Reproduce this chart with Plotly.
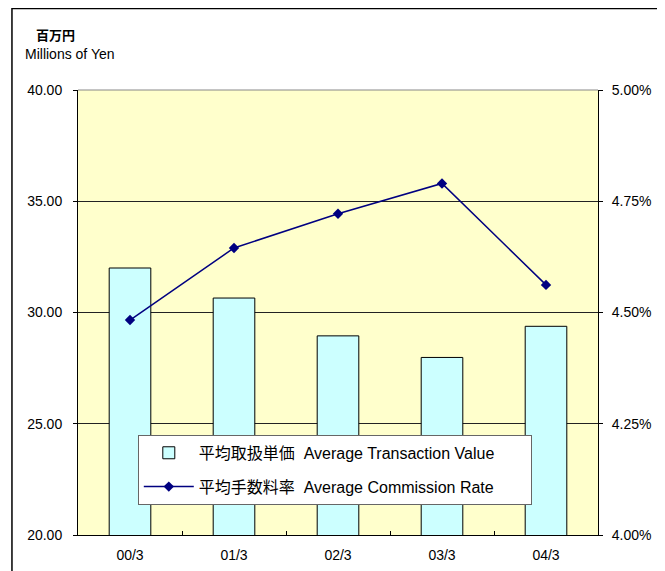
import plotly.graph_objects as go

# values
periods = ["00/3", "01/3", "02/3", "03/3", "04/3"]
avg_transaction_value = [32.0, 30.65, 28.95, 27.98, 29.38]   # millions of yen
avg_commission_rate = [0.04483, 0.04645, 0.04722, 0.04790, 0.04562]

FONT = "Liberation Sans, Arial, Noto Sans CJK JP, sans-serif"
PAD = "\u00a0" * 7  # right padding inside the legend box

fig = go.Figure()

fig.add_trace(go.Bar(
    x=periods, y=avg_transaction_value,
    name="平均取扱単価  Average Transaction Value" + PAD,
    legendgroup="value",
    marker=dict(color="#CCFFFF", line=dict(color="#000000", width=1)),
    yaxis="y",
))

fig.add_trace(go.Scatter(
    x=periods, y=avg_commission_rate,
    name="平均手数料率  Average Commission Rate",
    legendgroup="rate",
    mode="lines+markers",
    line=dict(color="#000080", width=1.5),
    marker=dict(symbol="diamond", size=8, color="#000080"),
    yaxis="y2",
))

# page body adds 8px, so the figure is sized 8px smaller and shifted
fig.update_layout(
    width=657, height=563,
    margin=dict(l=70, r=67, t=82, b=36),
    paper_bgcolor="white",
    plot_bgcolor="#FFFFCC",
    font=dict(family=FONT, size=14, color="#000000"),
    bargap=0.6,
    showlegend=True,
    legend=dict(
        x=0.115, y=0.225, xanchor="left", yanchor="top",
        bgcolor="white", bordercolor="#666666", borderwidth=1,
        font=dict(size=16, family=FONT),
        traceorder="grouped", tracegroupgap=10,
        itemwidth=50,
    ),
    xaxis=dict(
        type="category",
        showline=True, linecolor="#000000", linewidth=1,
        ticks="inside", ticklen=4, tickcolor="#000000",
        tickson="boundaries",
        showgrid=False,
        tickfont=dict(size=14),
        ticklabelstandoff=7,
        automargin=False,
    ),
    yaxis=dict(
        range=[20, 40], dtick=5, tickformat=".2f",
        showline=True, linecolor="#000000", linewidth=1,
        ticks="outside", ticklen=4, tickcolor="#000000",
        showgrid=True, gridcolor="#222222", gridwidth=1,
        zeroline=False,
        tickfont=dict(size=14),
        ticklabelstandoff=8,
        automargin=False,
    ),
    yaxis2=dict(
        range=[0.04, 0.05], dtick=0.0025, tickformat=".2%",
        overlaying="y", side="right",
        showline=True, linecolor="#000000", linewidth=1,
        ticks="outside", ticklen=4, tickcolor="#000000",
        showgrid=False, zeroline=False,
        tickfont=dict(size=14),
        ticklabelstandoff=6,
        automargin=False,
    ),
)

# top border of the plot area
fig.add_shape(type="line", xref="paper", yref="paper", x0=0, x1=1, y0=1, y1=1,
              line=dict(color="#888888", width=1))

# outer frame of the chart
fig.add_shape(type="rect", xref="paper", yref="paper",
              x0=-0.127, x1=1.121, y0=-0.1, y1=1.183,
              line=dict(color="#000000", width=1.5), fillcolor="rgba(0,0,0,0)")

fig.add_annotation(text="<b>百万円</b>", xref="paper", yref="paper",
                   x=-0.044, y=1.124, xanchor="center", yanchor="middle",
                   showarrow=False,
                   font=dict(size=13, family="Noto Sans CJK JP"))
fig.add_annotation(text="Millions of Yen", xref="paper", yref="paper",
                   x=-0.015, y=1.082, xanchor="center", yanchor="middle",
                   showarrow=False,
                   font=dict(size=14))

fig.write_html("out.html")
